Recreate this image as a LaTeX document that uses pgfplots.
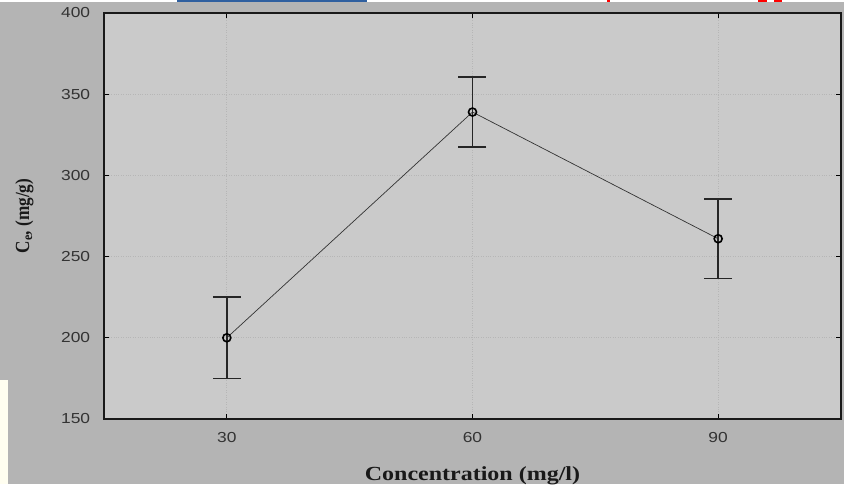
\documentclass[border=0pt]{standalone}
\usepackage{pgfplots}
\pgfplotsset{compat=1.18}
\usepackage{fontspec}
\setmainfont{Liberation Serif}
\newfontfamily\ticksfont{Liberation Sans}
\definecolor{outerbg}{HTML}{B4B4B4}
\definecolor{innerbg}{HTML}{CACACA}
\definecolor{gridc}{HTML}{B6B6B6}
\definecolor{ticktext}{HTML}{333333}
\definecolor{topblue}{HTML}{2F5F9F}
\begin{document}
\begin{tikzpicture}[x=1pt,y=1pt]
\fill[outerbg] (0,0) rectangle (844,484);
\fill[white] (0,482) rectangle (844,484);
\fill[topblue] (177,482) rectangle (367,484);
\fill[red] (607,482) rectangle (610,484);
\fill[red] (758,482) rectangle (767,484);
\fill[red] (774,482) rectangle (782,484);
\fill[white!94!yellow] (0,0) rectangle (8,104);
\begin{axis}[
  at={(104pt,65pt)}, anchor=south west,
  scale only axis, width=737pt, height=406pt,
  xmin=15, xmax=105, ymin=150, ymax=400,
  xtick={30,60,90}, ytick={150,200,250,300,350,400},
  axis background/.style={fill=innerbg},
  axis line style={line width=1.5pt, black!90},
  major tick style={line width=1pt, black},
  major tick length=5pt,
  tick align=inside,
  grid=major,
  major grid style={gridc, dotted, line width=0.8pt},
  /pgf/number format/assume math mode=true,
  tick label style={font=\ticksfont\fontsize{14.5}{14.5}\selectfont, text=ticktext, xscale=1.2},
  yticklabel style={xshift=-8pt},
  xticklabel style={yshift=-10pt},
  xlabel={\scalebox{1.2}[1]{\textbf{Concentration (mg/l)}}},
  ylabel={\scalebox{0.86}[1]{\textbf{C$_{\mathbf{e}}$, (mg/g)}}},
  label style={font=\fontsize{20}{20}\selectfont, text=black!90},
  xlabel style={at={(axis description cs:0.5,-0.152)}, anchor=base},
  ylabel style={at={(axis description cs:-0.108,0.5)}, anchor=center},
  clip=false,
]
\addplot[color=black!80, line width=0.7pt,
  mark=o, mark size=4pt, mark options={line width=1.6pt, black, fill=innerbg},
  error bars/.cd, y dir=both, y explicit,
  error bar style={line width=1.5pt, black!85},
  error mark options={rotate=90, mark size=14pt, line width=1.5pt, black!85}]
  table[x=x, y=y, y error=e] {
x y e
30 200 25
60 339 21.5
90 261 24.6
};
\end{axis}
\end{tikzpicture}
\end{document}
